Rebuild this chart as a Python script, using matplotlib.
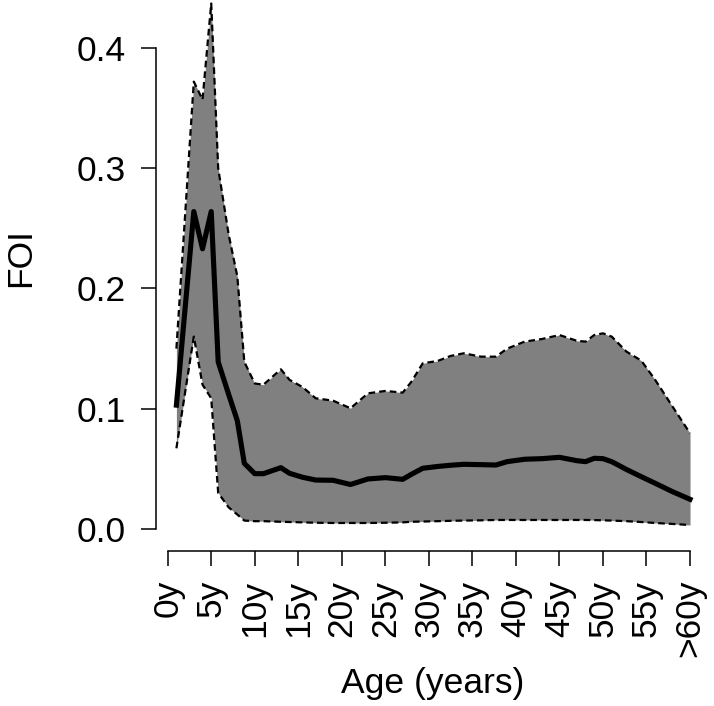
import matplotlib
matplotlib.use("Agg")
import matplotlib.pyplot as plt

plt.rcParams['font.family'] = ['Liberation Sans', 'DejaVu Sans']

# age (years) of each estimate
ages = [1, 3, 4, 5, 5.8, 7, 8, 8.8, 10, 11, 13, 14, 15.5, 17, 19, 21, 23, 25,
        27, 28, 29.3, 31, 32.5, 34, 36, 37.7, 39, 41, 43, 45, 47, 48, 49, 50,
        51, 52.7, 54.4, 56, 58, 60]

# median force of infection
foi_med = [0.103, 0.264, 0.233, 0.264, 0.139, 0.112, 0.090, 0.0546, 0.046,
           0.046, 0.051, 0.0463, 0.043, 0.0407, 0.0405, 0.037, 0.0416, 0.0427,
           0.0413, 0.0455, 0.0505, 0.052, 0.053, 0.0538, 0.0535, 0.0532, 0.056,
           0.058, 0.0585, 0.0596, 0.0568, 0.056, 0.0588, 0.0585, 0.056, 0.0495,
           0.0435, 0.038, 0.031, 0.0247]

# upper / lower credible bounds
foi_hi = [0.150, 0.372, 0.357, 0.437, 0.300, 0.245, 0.210, 0.139, 0.121,
          0.120, 0.1328, 0.124, 0.118, 0.1087, 0.1067, 0.1004, 0.1128, 0.1148,
          0.1134, 0.1225, 0.1378, 0.1397, 0.1439, 0.1461, 0.1433, 0.1433, 0.150,
          0.1558, 0.158, 0.1613, 0.1565, 0.1558, 0.1613, 0.1627, 0.160, 0.1475,
          0.140, 0.124, 0.1017, 0.0796]

foi_lo = [0.0671, 0.160, 0.120, 0.1087, 0.030, 0.018, 0.012, 0.007, 0.0065,
          0.0065, 0.006, 0.0058, 0.0055, 0.0052, 0.005, 0.005, 0.005, 0.0052,
          0.0055, 0.006, 0.0062, 0.0065, 0.0068, 0.007, 0.0072, 0.0075, 0.0075,
          0.0075, 0.0075, 0.0075, 0.0075, 0.0075, 0.0074, 0.0072, 0.007, 0.0065,
          0.0058, 0.005, 0.0042, 0.0033]

xticks = list(range(0, 61, 5))
xlabels = ['0y', '5y', '10y', '15y', '20y', '25y', '30y', '35y', '40y', '45y',
           '50y', '55y', '>60y']
yticks = [0.0, 0.1, 0.2, 0.3, 0.4]

W, H = 714, 706
fig = plt.figure(figsize=(W / 100, H / 100), dpi=100)
ax = fig.add_axes([155.7 / W, (H - 551) / H, (711 - 155.7) / W, 551 / H])

ax.fill_between(ages, foi_lo, foi_hi, color='#808080', lw=0)
ax.plot(ages, foi_hi, color='black', lw=1.6, ls=(0, (3.0, 1.8)))
ax.plot(ages, foi_lo, color='black', lw=1.6, ls=(0, (3.0, 1.8)))
ax.plot(ages, foi_med, color='black', lw=3.7, solid_joinstyle='round')

ax.set_xlim(-1.378, 62.41)
ax.set_ylim(-0.0183, 0.4399)

for s in ['top', 'right']:
    ax.spines[s].set_visible(False)
ax.spines['left'].set_bounds(0, 0.4)
ax.spines['bottom'].set_bounds(0, 60)
ax.spines['left'].set_linewidth(1.1)
ax.spines['bottom'].set_linewidth(1.1)

ax.set_xticks(xticks)
ax.set_xticklabels(xlabels, rotation=90)
ax.set_yticks(yticks)
ax.set_yticklabels(['0.0', '0.1', '0.2', '0.3', '0.4'])
ax.tick_params(axis='both', length=10.8, width=1.1, labelsize=25.5)
ax.tick_params(axis='x', pad=10)
ax.tick_params(axis='y', pad=11)
ax.patch.set_alpha(0)

fig.text(433 / W, 1 - 683 / H, 'Age (years)', ha='center', va='center',
         fontsize=25.5)
fig.text(21 / W, 1 - 258 / H, 'FOI', ha='center', va='center', rotation=90,
         fontsize=25.5)

fig.savefig('out.png', dpi=100)
